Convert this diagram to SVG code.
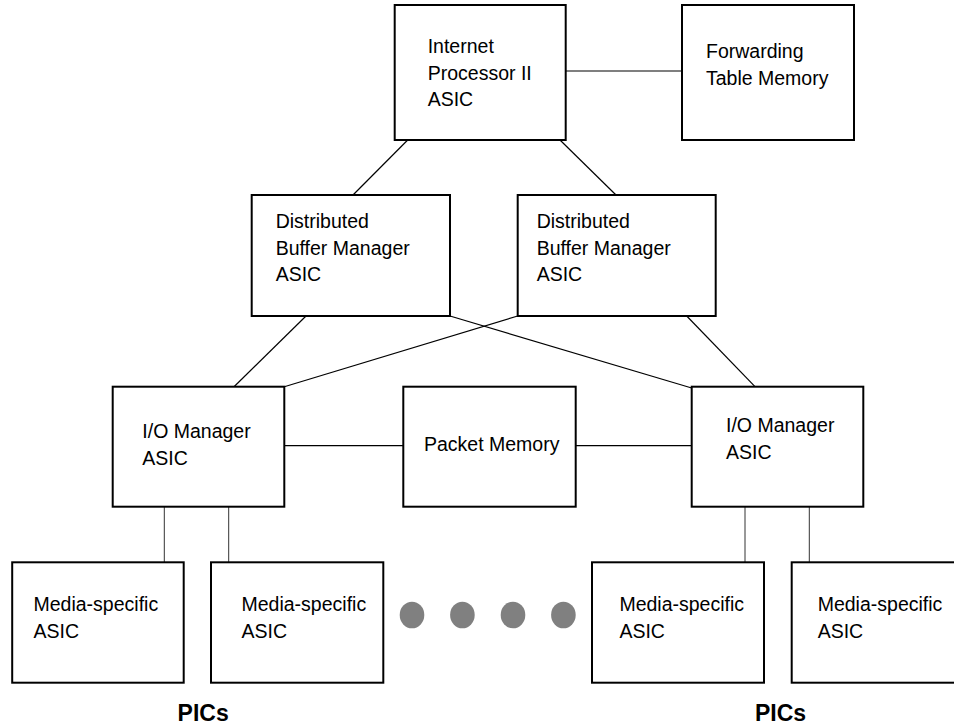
<svg xmlns="http://www.w3.org/2000/svg" width="954" height="725" viewBox="0 0 954 725">
<style>
.box{fill:#fff;stroke:#000;stroke-width:2}
.t{font-family:"Liberation Sans",Arial,sans-serif;font-size:19.5px;fill:#000}
.b{font-family:"Liberation Sans",Arial,sans-serif;font-size:23px;font-weight:bold;fill:#000}
.c{stroke:#000;stroke-width:1.2;fill:none}
.v{stroke:#333;stroke-width:1;fill:none}
.dot{fill:#808080}
</style>
<rect width="954" height="725" fill="#fff"/>
<g id="connectors">
<line class="c" x1="566" y1="71" x2="682" y2="71"/>
<line class="c" x1="407.7" y1="140" x2="353" y2="195"/>
<line class="c" x1="560" y1="140" x2="616" y2="195"/>
<line class="c" x1="306" y1="316" x2="234" y2="386.7"/>
<line class="c" x1="450" y1="316" x2="691.7" y2="388"/>
<line class="c" x1="517.7" y1="316" x2="284.3" y2="386.7"/>
<line class="c" x1="686.7" y1="316" x2="755" y2="386.7"/>
<line class="c" x1="284.3" y1="445.7" x2="403.3" y2="445.7"/>
<line class="c" x1="575.7" y1="445.7" x2="691.7" y2="445.7"/>
<line class="v" x1="164.3" y1="506.7" x2="164.3" y2="562.3"/>
<line class="v" x1="228.7" y1="506.7" x2="228.7" y2="562.3"/>
<line class="v" x1="745" y1="506.7" x2="745" y2="562.3"/>
<line class="v" x1="809.3" y1="506.7" x2="809.3" y2="562.3"/>
</g>
<g id="ip">
<rect class="box" x="394.7" y="5" width="171" height="135"/>
<text class="t" x="427.7" y="53.3">Internet</text>
<text class="t" x="427.7" y="80">Processor II</text>
<text class="t" x="427.7" y="106">ASIC</text>
</g>
<g id="ftm">
<rect class="box" x="682" y="5" width="172" height="135"/>
<text class="t" x="706" y="58">Forwarding</text>
<text class="t" x="706" y="85">Table Memory</text>
</g>
<g id="dbm1">
<rect class="box" x="251.7" y="195" width="198.3" height="121"/>
<text class="t" x="275.7" y="228">Distributed</text>
<text class="t" x="275.7" y="255">Buffer Manager</text>
<text class="t" x="275.7" y="281">ASIC</text>
</g>
<g id="dbm2">
<rect class="box" x="517.7" y="195" width="198" height="121"/>
<text class="t" x="536.7" y="228">Distributed</text>
<text class="t" x="536.7" y="255">Buffer Manager</text>
<text class="t" x="536.7" y="281">ASIC</text>
</g>
<g id="io1">
<rect class="box" x="112.7" y="386.7" width="171.6" height="120"/>
<text class="t" x="142.3" y="438.3">I/O Manager</text>
<text class="t" x="142.3" y="465">ASIC</text>
</g>
<g id="pm">
<rect class="box" x="403.3" y="386.7" width="172.4" height="120"/>
<text class="t" x="424" y="450.7">Packet Memory</text>
</g>
<g id="io2">
<rect class="box" x="691.7" y="386.7" width="171.6" height="120"/>
<text class="t" x="726" y="432.3">I/O Manager</text>
<text class="t" x="726" y="459.3">ASIC</text>
</g>
<g id="media1">
<rect class="box" x="12.2" y="562.3" width="171.5" height="120.4"/>
<text class="t" x="33.5" y="611">Media-specific</text>
<text class="t" x="33.5" y="637.5">ASIC</text>
</g>
<g id="media2">
<rect class="box" x="211" y="562.3" width="172.3" height="120.4"/>
<text class="t" x="241.5" y="611">Media-specific</text>
<text class="t" x="241.5" y="637.5">ASIC</text>
</g>
<g id="media3">
<rect class="box" x="592" y="562.3" width="172" height="120.4"/>
<text class="t" x="619.4" y="611">Media-specific</text>
<text class="t" x="619.4" y="637.5">ASIC</text>
</g>
<g id="media4">
<rect class="box" x="791.7" y="562.3" width="172" height="120.4"/>
<text class="t" x="817.7" y="611">Media-specific</text>
<text class="t" x="817.7" y="637.5">ASIC</text>
</g>
<g id="dots">
<ellipse class="dot" cx="412" cy="615" rx="12.3" ry="13.3"/>
<ellipse class="dot" cx="462.4" cy="615" rx="12.3" ry="13.3"/>
<ellipse class="dot" cx="513" cy="615" rx="12.3" ry="13.3"/>
<ellipse class="dot" cx="563.4" cy="615" rx="12.3" ry="13.3"/>
</g>
<g id="pics">
<text class="b" x="177.6" y="721">PICs</text>
<text class="b" x="755" y="721">PICs</text>
</g>
</svg>
